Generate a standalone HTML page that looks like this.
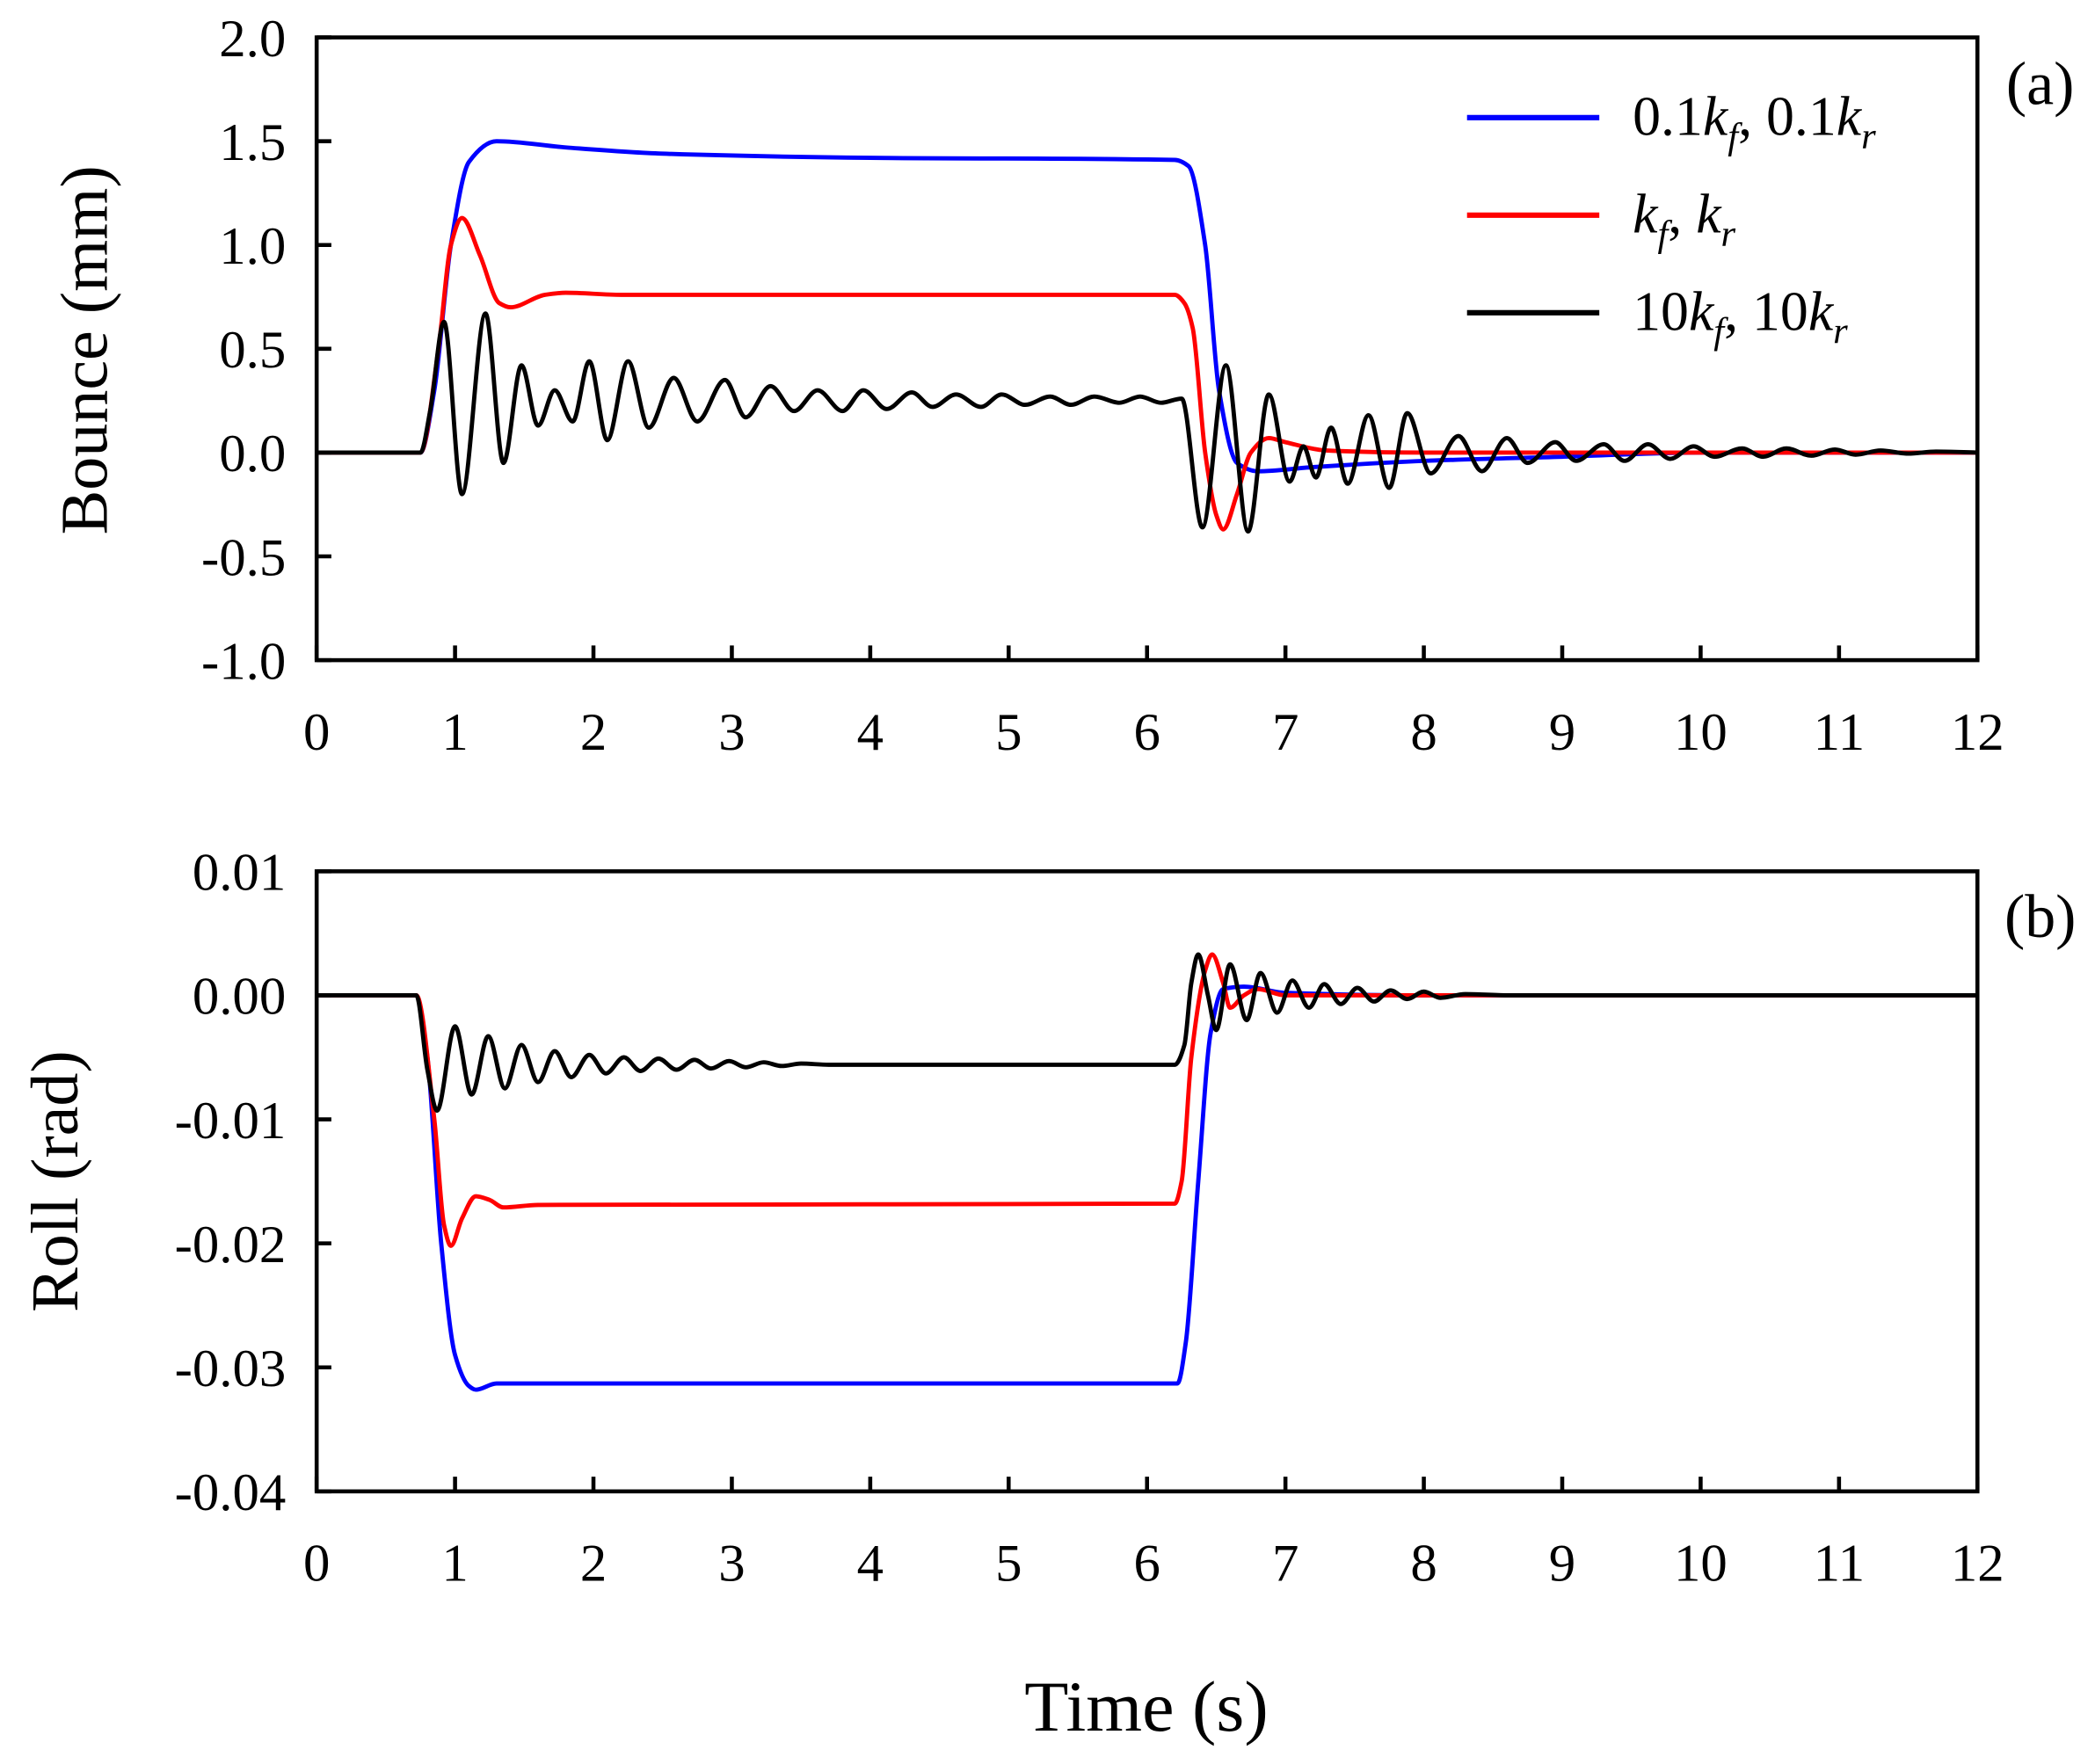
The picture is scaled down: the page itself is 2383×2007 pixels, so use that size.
<!DOCTYPE html>
<html><head><meta charset="utf-8"><style>
html,body{margin:0;padding:0;background:#fff;}
svg{display:block;}
text{font-family:"Liberation Serif",serif;fill:#000;}
</style></head><body>
<svg id="chart" width="2383" height="2007" viewBox="0 0 1568 1320" preserveAspectRatio="none" xmlns="http://www.w3.org/2000/svg">
<g id="top"></g>
<g id="bot"></g>
<text x="858" y="1295" font-size="54" text-anchor="middle">Time (s)</text>
<text x="1527" y="78" font-size="46" text-anchor="middle">(a)</text>
<text x="1527" y="701" font-size="46" text-anchor="middle">(b)</text>
<text transform="translate(80,262) rotate(-90)" font-size="50" text-anchor="middle">Bounce (mm)</text>
<text transform="translate(58,884) rotate(-90)" font-size="50" text-anchor="middle">Roll (rad)</text>
<g>
<line x1="1098" x2="1197" y1="88" y2="88" stroke="#0000ff" stroke-width="4"/>
<text x="1222" y="101" font-size="42">0.1<tspan font-style="italic">k</tspan><tspan font-style="italic" font-size="28" dy="10">f</tspan><tspan dy="-10">, 0.1</tspan><tspan font-style="italic">k</tspan><tspan font-style="italic" font-size="28" dy="10">r</tspan></text>
<line x1="1098" x2="1197" y1="161" y2="161" stroke="#ff0000" stroke-width="4"/>
<text x="1222" y="174" font-size="42"><tspan font-style="italic">k</tspan><tspan font-style="italic" font-size="28" dy="10">f</tspan><tspan dy="-10">, </tspan><tspan font-style="italic">k</tspan><tspan font-style="italic" font-size="28" dy="10">r</tspan></text>
<line x1="1098" x2="1197" y1="234" y2="234" stroke="#000" stroke-width="4"/>
<text x="1222" y="247" font-size="42">10<tspan font-style="italic">k</tspan><tspan font-style="italic" font-size="28" dy="10">f</tspan><tspan dy="-10">, 10</tspan><tspan font-style="italic">k</tspan><tspan font-style="italic" font-size="28" dy="10">r</tspan></text>
</g>
</svg>
<script>
const xTicks=[0,1,2,3,4,5,6,7,8,9,10,11,12];
const bounceTicks=[2.0,1.5,1.0,0.5,0.0,-0.5,-1.0];
const bounceTickLabels=["2.0","1.5","1.0","0.5","0.0","-0.5","-1.0"];
const rollTicks=[0.01,0,-0.01,-0.02,-0.03,-0.04];
const rollTickLabels=["0.01","0.00","-0.01","-0.02","-0.03","-0.04"];

const bBlueT=[0,0.6,0.75,0.85,0.97,1.1,1.3,1.8,2.5,4,6.2,6.3,6.42,6.52,6.65,6.8,7.2,8,9,10,12];
const bBlueV=[0,0,0,0.3,1.0,1.4,1.5,1.47,1.44,1.42,1.41,1.38,1.0,0.3,-0.05,-0.09,-0.07,-0.04,-0.02,0,0];
const bRedT=[0,0.6,0.75,0.88,0.97,1.05,1.18,1.32,1.4,1.65,1.8,2.2,6.2,6.27,6.33,6.42,6.5,6.55,6.65,6.75,6.88,7.0,7.3,8,12];
const bRedV=[0,0,0,0.5,1.0,1.13,0.95,0.72,0.7,0.76,0.77,0.76,0.76,0.72,0.6,0.0,-0.3,-0.37,-0.2,0.0,0.07,0.05,0.01,0,0];
const bBlackT=[0,0.6,0.75,0.82,0.92,1.05,1.22,1.35,1.48,1.6,1.72,1.85,1.97,2.1,2.25,2.4,2.58,2.75,2.95,3.1,3.28,3.45,3.62,3.8,3.95,4.12,4.3,4.45,4.62,4.8,4.95,5.12,5.3,5.45,5.62,5.8,5.95,6.1,6.25,6.4,6.57,6.73,6.88,7.03,7.13,7.22,7.33,7.45,7.6,7.75,7.88,8.05,8.25,8.42,8.6,8.75,8.95,9.1,9.3,9.45,9.62,9.78,9.95,10.1,10.3,10.45,10.62,10.8,10.97,11.12,11.3,11.5,11.7,12];
const bBlackV=[0,0,0,0.2,0.63,-0.2,0.67,-0.05,0.42,0.13,0.3,0.15,0.44,0.06,0.44,0.12,0.36,0.15,0.35,0.17,0.32,0.2,0.3,0.2,0.3,0.21,0.29,0.22,0.28,0.22,0.28,0.23,0.27,0.23,0.27,0.24,0.27,0.24,0.26,-0.36,0.42,-0.38,0.28,-0.14,0.03,-0.12,0.12,-0.15,0.18,-0.17,0.19,-0.1,0.08,-0.09,0.07,-0.05,0.05,-0.04,0.04,-0.04,0.04,-0.03,0.03,-0.02,0.02,-0.02,0.02,-0.015,0.015,-0.01,0.01,-0.005,0.005,0];

const rBlueT=[0,0.6,0.72,0.8,0.9,1.0,1.1,1.15,1.3,6.22,6.28,6.37,6.46,6.55,6.7,7.0,8,12];
const rBlueV=[0,0,0,-0.005,-0.02,-0.029,-0.0315,-0.0318,-0.0313,-0.0313,-0.028,-0.015,-0.003,0.0005,0.0007,0.0002,0,0];
const rRedT=[0,0.6,0.72,0.85,0.92,0.97,1.05,1.15,1.25,1.35,1.6,6.2,6.25,6.32,6.42,6.47,6.55,6.6,6.7,6.8,7.0,8,12];
const rRedV=[0,0,0,-0.01,-0.0185,-0.0202,-0.018,-0.0162,-0.0165,-0.0171,-0.0169,-0.0168,-0.015,-0.005,0.002,0.0033,0.001,-0.001,0,0.0005,0,0,0];
const rBlackT=[0,0.6,0.72,0.8,0.87,1.0,1.12,1.24,1.36,1.48,1.6,1.72,1.84,1.97,2.09,2.22,2.34,2.47,2.6,2.73,2.85,2.98,3.1,3.23,3.36,3.5,3.7,6.2,6.27,6.32,6.37,6.44,6.5,6.6,6.72,6.82,6.94,7.05,7.17,7.28,7.4,7.52,7.64,7.76,7.88,8.0,8.12,8.3,8.6,12];
const rBlackV=[0,0,0,-0.006,-0.0093,-0.0025,-0.008,-0.0033,-0.0075,-0.004,-0.007,-0.0045,-0.0066,-0.0048,-0.0063,-0.005,-0.0061,-0.0051,-0.006,-0.0052,-0.0059,-0.0053,-0.0058,-0.0054,-0.0057,-0.0055,-0.0056,-0.0056,-0.004,0.001,0.0033,0,-0.0028,0.0025,-0.002,0.0018,-0.0014,0.0012,-0.001,0.0009,-0.0007,0.0006,-0.0005,0.0004,-0.0003,0.0003,-0.0002,0.0001,0,0];

const NS="http://www.w3.org/2000/svg";
const X0=237,X1=1480;
function xs(t){return X0+(X1-X0)*t/12;}
function mk(tag,attrs,parent){const e=document.createElementNS(NS,tag);for(const k in attrs)e.setAttribute(k,attrs[k]);parent.appendChild(e);return e;}
function spline(T,V,x,y){
  const X=T.map(x),Y=V.map(y),n=X.length;
  const d=[],m=new Array(n).fill(0);
  for(let i=0;i<n-1;i++)d.push((Y[i+1]-Y[i])/(X[i+1]-X[i]));
  m[0]=d[0];m[n-1]=d[n-2];
  for(let i=1;i<n-1;i++){
    if(d[i-1]*d[i]<=0)m[i]=0;
    else{const w1=2*(X[i+1]-X[i])+(X[i]-X[i-1]),w2=(X[i+1]-X[i])+2*(X[i]-X[i-1]);m[i]=(w1+w2)/(w1/d[i-1]+w2/d[i]);}
  }
  let s="M"+X[0].toFixed(2)+","+Y[0].toFixed(2);
  for(let i=0;i<n-1;i++){
    const h=(X[i+1]-X[i])/3;
    s+="C"+(X[i]+h).toFixed(2)+","+(Y[i]+m[i]*h).toFixed(2)+" "+(X[i+1]-h).toFixed(2)+","+(Y[i+1]-m[i+1]*h).toFixed(2)+" "+X[i+1].toFixed(2)+","+Y[i+1].toFixed(2);
  }
  return s;
}
function panel(g,top,bot,ymax,ymin,ticks,labels,series,prefix){
  const ys=v=>top+(bot-top)*(ymax-v)/(ymax-ymin);
  series.forEach(s=>{
    const p=mk("path",{d:spline(s.t,s.v,xs,ys),fill:"none",stroke:s.c,"stroke-width":3.2,"stroke-linejoin":"round"},g);
    
    
  });
  const box=mk("rect",{x:X0,y:top,width:X1-X0,height:bot-top,fill:"none",stroke:"#000","stroke-width":3},g);
  
  
  xTicks.forEach(t=>{
    const l=mk("line",{x1:xs(t),x2:xs(t),y1:bot,y2:bot-11,stroke:"#000","stroke-width":3},g);
    
    
    const tx=mk("text",{x:xs(t),y:bot+67,"font-size":40,"text-anchor":"middle"},g);
    tx.textContent=String(t);
    
    
  });
  ticks.forEach((v,i)=>{
    const l=mk("line",{x1:X0,x2:X0+11,y1:ys(v),y2:ys(v),stroke:"#000","stroke-width":3},g);
    
    
    const tx=mk("text",{x:214,y:ys(v)+14,"font-size":40,"text-anchor":"end"},g);
    tx.textContent=labels[i];
    
    
  });
}
panel(document.getElementById("top"),28,494,2.0,-1.0,bounceTicks,bounceTickLabels,[
  {t:bBlueT,v:bBlueV,c:"#0000ff",n:"0.1k"},{t:bRedT,v:bRedV,c:"#ff0000",n:"k"},{t:bBlackT,v:bBlackV,c:"#000000",n:"10k"}],"bounce");
panel(document.getElementById("bot"),652,1116,0.01,-0.04,rollTicks,rollTickLabels,[
  {t:rBlueT,v:rBlueV,c:"#0000ff",n:"0.1k"},{t:rRedT,v:rRedV,c:"#ff0000",n:"k"},{t:rBlackT,v:rBlackV,c:"#000000",n:"10k"}],"roll");
</script>
</body></html>
